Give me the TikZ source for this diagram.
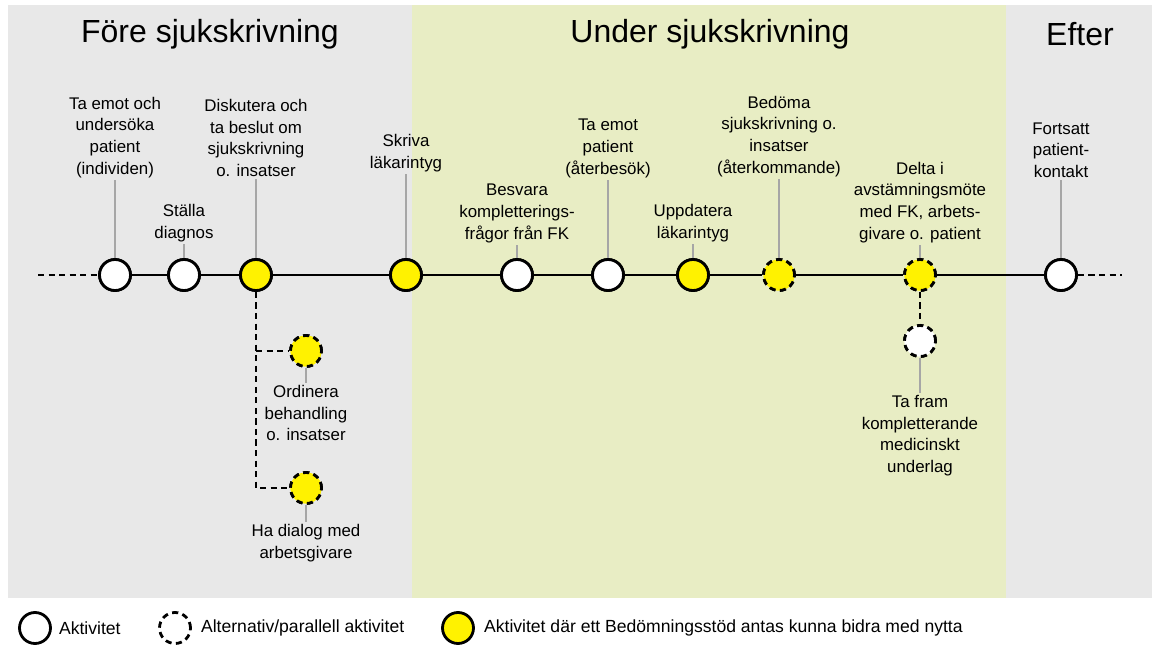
\documentclass[tikz,border=0pt]{standalone}
\usepackage{fontspec}
\setmainfont{Liberation Sans}
\begin{document}
\begin{tikzpicture}[x=0.02cm,y=-0.02cm,
  act/.style={circle,draw,line width=1.6pt,fill=white,minimum size=0.62cm,inner sep=0},
  yel/.style={act,fill=yellow},
  alt/.style={dash pattern=on 3.5pt off 2.5pt},
  lbl/.style={align=center,font=\fontsize{9.6}{12.4}\selectfont,inner sep=1pt},
  leg/.style={font=\fontsize{10}{12}\selectfont,inner sep=1pt},
  lnk/.style={draw=gray!70,line width=0.8pt},
  hdr/.style={font=\fontsize{18.2}{20}\selectfont},
  tl/.style={line width=1.6pt}]
\useasboundingbox (0,0) rectangle (1160,652);
\fill[gray!18] (8,5) rectangle (1152,598);
\fill[fill={rgb,255:red,232;green,237;blue,196}] (412,5) rectangle (1006,598);
\node[hdr] (h1) at (210,34) {Före sjukskrivning};
\node[hdr] (h2) at (710,34) {Under sjukskrivning};
\node[hdr] (h3) at (1080,34) {Efter};
% timeline endpoints
\coordinate (l0) at (38,275); \coordinate (r0) at (1122,275);
\node[act] (c1) at (115,275) {};
\node[act] (c2) at (184,275) {};
\node[yel] (c3) at (256,275) {};
\node[yel] (c4) at (406,275) {};
\node[act] (c5) at (517,275) {};
\node[act] (c6) at (608,275) {};
\node[yel] (c7) at (693,275) {};
\node[yel,alt] (c8) at (779,275) {};
\node[yel,alt] (c9) at (920,275) {};
\node[act] (c10) at (1061,275) {};
\node[yel,alt] (b1) at (306,351) {};
\node[yel,alt] (b2) at (306,488) {};
\node[act,alt] (b3) at (920,341) {};
\draw[tl,alt] (l0) -- (c1);
\draw[tl] (c1) -- (c2) -- (c3) -- (c4) -- (c5) -- (c6) -- (c7) -- (c8) -- (c9) -- (c10);
\draw[tl,alt] (c10) -- (r0);
\coordinate (k1) at (256,351); \coordinate (k2) at (256,488);
\draw[tl,alt] (c3) -- (k2) -- (b2);
\draw[tl,alt] (k1) -- (b1);
\draw[tl,alt] (c9) -- (b3);
% redraw circles on top
\foreach \x in {115,184,517,608,1061}{\node[act] at (\x,275) {};}
\foreach \x in {256,406,693}{\node[yel] at (\x,275) {};}
\foreach \x in {779,920}{\node[yel,alt] at (\x,275) {};}
\node[yel,alt] at (306,351) {};\node[yel,alt] at (306,488) {};\node[act,alt] at (920,341) {};
% labels above
\node[lbl,anchor=south] (t1) at (115,180) {Ta emot och\\undersöka\\patient\\(individen)};
\node[lbl,anchor=south] (t2) at (184,244) {Ställa\\diagnos};
\node[lbl,anchor=south] (t3) at (256,179) {Diskutera och\\ta beslut om\\sjukskrivning\\o. insatser};
\node[lbl,anchor=south] (t4) at (406,174) {Skriva\\läkarintyg};
\node[lbl,anchor=south] (t5) at (517,245) {Besvara\\kompletterings-\\frågor från FK};
\node[lbl,anchor=south] (t6) at (608,180) {Ta emot\\patient\\(återbesök)};
\node[lbl,anchor=south] (t7) at (693,244) {Uppdatera\\läkarintyg};
\node[lbl,anchor=south] (t8) at (779,179) {Bedöma\\sjukskrivning o.\\insatser\\(återkommande)};
\node[lbl,anchor=south] (t9) at (920,245) {Delta i\\avstämningsmöte\\med FK, arbets-\\givare o. patient};
\node[lbl,anchor=south] (t10) at (1061,180) {Fortsatt\\patient-\\kontakt};
\foreach \i in {1,...,10}{\draw[lnk] (t\i.south) -- (c\i.north);}
% labels below
\node[lbl,anchor=north] (u1) at (306,383) {Ordinera\\behandling\\o. insatser};
\node[lbl,anchor=north] (u2) at (306,522) {Ha dialog med\\arbetsgivare};
\node[lbl,anchor=north] (u3) at (920,393) {Ta fram\\kompletterande\\medicinskt\\underlag};
\draw[lnk] (b1.south) -- (u1.north);
\draw[lnk] (b2.south) -- (u2.north);
\draw[lnk] (b3.south) -- (u3.north);
% legend
\node[act] (g1) at (35,628) {};
\node[act,alt] (g2) at (175,628) {};
\node[yel] (g3) at (458,628) {};
\node[leg,anchor=west] (g1t) at (57,628) {Aktivitet};
\node[leg,anchor=west] (g2t) at (199,628) {Alternativ/parallell aktivitet};
\node[leg,anchor=west] (g3t) at (482,628) {Aktivitet där ett Bedömningsstöd antas kunna bidra med nytta};
\end{tikzpicture}
\end{document}
